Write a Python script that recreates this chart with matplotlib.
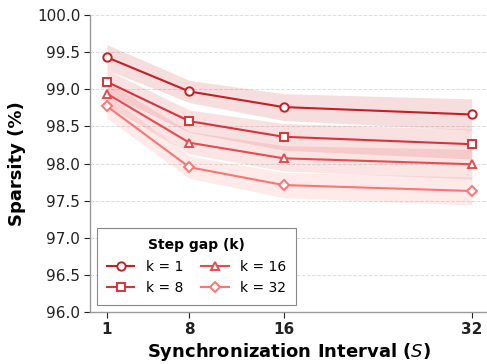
import numpy as np
import matplotlib.pyplot as plt

intervals = [1, 8, 16, 32]
k_labels = ['k = 1', 'k = 8', 'k = 16', 'k = 32']
sparsity_k1 = [99.43, 98.97, 98.76, 98.66]
sparsity_k8 = [99.10, 98.57, 98.36, 98.26]
sparsity_k16 = [98.94, 98.28, 98.07, 97.99]
sparsity_k32 = [98.77, 97.95, 97.71, 97.63]
spread_k1 = [0.17, 0.15, 0.18, 0.21]
spread_k8 = [0.16, 0.15, 0.18, 0.20]
spread_k16 = [0.16, 0.15, 0.17, 0.20]
spread_k32 = [0.16, 0.15, 0.17, 0.19]

series = [sparsity_k1, sparsity_k8, sparsity_k16, sparsity_k32]
spreads = [spread_k1, spread_k8, spread_k16, spread_k32]
colors = ['#c81d22', '#d9333a', '#e84a50', '#ff7373']
markers = ['o', 's', '^', 'D']

fig = plt.figure(figsize=(4.87, 3.64), dpi=100)
ax = fig.add_axes([90 / 487, 52 / 364, 1 - 90 / 487, (312 - 15) / 364])

x = np.array(intervals)
for vals, sd, c, m, lab in zip(series, spreads, colors, markers, k_labels):
    vals = np.array(vals)
    sd = np.array(sd)
    ax.fill_between(x, vals - sd, vals + sd, color=c, alpha=0.15, lw=0)
    ax.plot(x, vals, color=c, marker=m, lw=1.5, ms=6 if m != 'D' else 5.5,
            mfc='white', mew=1.4, label=lab)

ax.set_xlim(-0.45, 33.3)
ax.set_ylim(96.0, 100.0)
ax.set_xticks(intervals)
ax.set_xticklabels([str(v) for v in intervals], fontweight='bold', fontsize=11)
ax.set_yticks(np.arange(96.0, 100.01, 0.5))
ax.set_yticklabels([f'{v:.1f}' for v in np.arange(96.0, 100.01, 0.5)], fontsize=11)
ax.tick_params(colors='#222222', length=4, pad=3)
ax.yaxis.grid(True, ls='--', color='#dddddd', lw=0.7)
ax.set_axisbelow(True)
for s in ['top', 'right']:
    ax.spines[s].set_visible(False)
for s in ['left', 'bottom']:
    ax.spines[s].set_color('#999999')
    ax.spines[s].set_linewidth(1.0)

ax.set_xlabel('Synchronization Interval ($S$)', fontsize=13, fontweight='bold', labelpad=3)
ax.set_ylabel('Sparsity (%)', fontsize=13, fontweight='bold', labelpad=8)

leg = ax.legend(ncol=2, loc='lower left', title='Step gap (k)', fontsize=10,
                title_fontproperties={'weight': 'bold', 'size': 10},
                fancybox=False, edgecolor='#888888', framealpha=1,
                columnspacing=1.3, handlelength=2.0, borderpad=0.7,
                labelspacing=0.55, bbox_to_anchor=(0.0, 0.0))
leg.get_frame().set_linewidth(0.8)

fig.savefig('out.png', dpi=100)
